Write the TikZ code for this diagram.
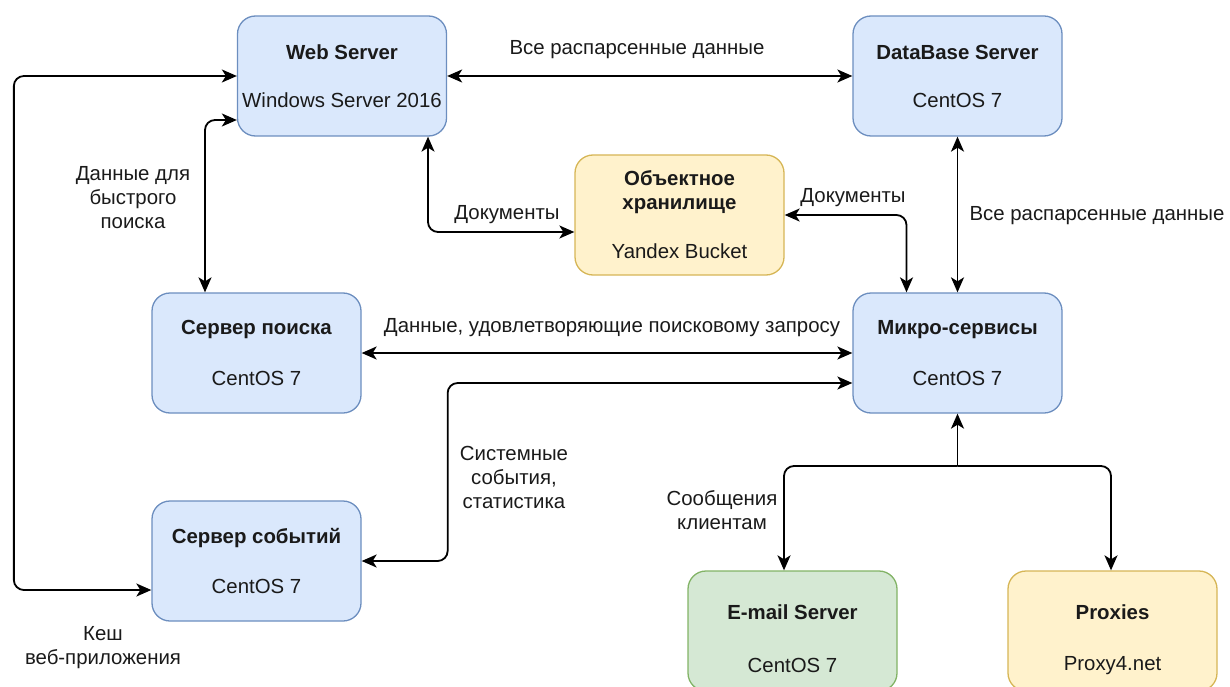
\documentclass[tikz,border=0pt]{standalone}
\usepackage{fontspec}
\setmainfont{Liberation Sans}
\usetikzlibrary{arrows.meta,calc}
\definecolor{bfill}{HTML}{DAE8FC}
\definecolor{bline}{HTML}{6C8EBF}
\definecolor{yfill}{HTML}{FFF2CC}
\definecolor{yline}{HTML}{D6B656}
\definecolor{gfill}{HTML}{D5E8D4}
\definecolor{gline}{HTML}{82B366}
\definecolor{txt}{HTML}{1A1A1A}
\begin{document}
\begin{tikzpicture}[x=1pt,y=-1pt,
  box/.style={draw, line width=1.3pt, rounded corners=18pt, minimum width=209pt, minimum height=120pt, inner sep=0pt},
  bluebox/.style={box, draw=bline, fill=bfill},
  yellowbox/.style={box, draw=yline, fill=yfill},
  greenbox/.style={box, draw=gline, fill=gfill},
  lbl/.style={font=\fontsize{20.4}{24}\selectfont, align=center, inner sep=0pt, text=txt},
  ttl/.style={lbl, font=\fontsize{20.4}{24}\selectfont\bfseries},
  link/.style={line width=1.8pt, draw=black, rounded corners=10pt},
  both/.style={link, {Stealth[length=15pt,width=13pt,inset=4pt]}-{Stealth[length=15pt,width=13pt,inset=4pt]}},
  fwd/.style={link, -{Stealth[length=15pt,width=13pt,inset=4pt]}},
]
\useasboundingbox (0,0) rectangle (1230,687);

% boxes
\node[bluebox] (web) at (342,76) {};
\node[bluebox] (db) at (957.5,76) {};
\node[yellowbox] (obj) at (679.5,215) {};
\node[bluebox] (search) at (256.5,353) {};
\node[bluebox] (micro) at (957.5,353) {};
\node[bluebox] (events) at (256.5,561) {};
\node[greenbox] (email) at (792.5,631) {};
\node[yellowbox] (proxies) at (1112.5,631) {};

% box texts
\node[ttl] (webT) at ($(web.north)+(0,37)$) {Web Server};
\node[lbl] (webS) at ($(web.north)+(0,85)$) {Windows Server 2016};
\node[ttl] (dbT) at ($(db.north)+(0,37)$) {DataBase Server};
\node[lbl] (dbS) at ($(db.north)+(0,85)$) {CentOS 7};
\node[ttl] (objT) at ($(obj.north)+(0,38)$) {Объектное\\хранилище};
\node[lbl] (objS) at ($(obj.north)+(0,97)$) {Yandex Bucket};
\node[ttl] (searchT) at ($(search.north)+(0,37)$) {Сервер поиска};
\node[lbl] (searchS) at ($(search.north)+(0,86)$) {CentOS 7};
\node[ttl] (microT) at ($(micro.north)+(0,37)$) {Микро-сервисы};
\node[lbl] (microS) at ($(micro.north)+(0,86)$) {CentOS 7};
\node[ttl] (eventsT) at ($(events.north)+(0,38)$) {Сервер событий};
\node[lbl] (eventsS) at ($(events.north)+(0,86)$) {CentOS 7};
\node[ttl] (emailT) at ($(email.north)+(0,42)$) {E-mail Server};
\node[lbl] (emailS) at ($(email.north)+(0,95)$) {CentOS 7};
\node[ttl] (proxT) at ($(proxies.north)+(0,42)$) {Proxies};
\node[lbl] (proxS) at ($(proxies.north)+(0,95)$) {Proxy4.net};

% connectors
\draw[both] (web.east) -- (db.west);
\draw[both] (web.west) -- ++(-223,0) |- ($(events.west)+(0,29)$);
\draw[both] ($(web.west)+(0,44)$) -| ($(search.north)+(-51.5,0)$);
\draw[both] ($(web.south)+(86,0)$) |- ($(obj.west)+(0,17)$);
\draw[both] (obj.east) -| ($(micro.north)+(-51,0)$);
\draw[both] (db.south) -- (micro.north);
\draw[both] (search.east) -- (micro.west);
\draw[both] (events.east) -- ++(86,0) |- ($(micro.west)+(0,30)$);
\coordinate (split) at (957.5,466);
\draw[fwd] (split) -- (micro.south);
\draw[fwd] (split) -| ($(email.north)+(-8.5,0)$);
\draw[fwd] (split) -| ($(proxies.north)+(-1.5,0)$);

% connector labels
\node[lbl] (l1) at (637,50) {Все распарсенные данные};
\node[lbl] (l2) at (103,648) {Кеш\\веб-приложения};
\node[lbl] (l3) at (133,198) {Данные для\\быстрого\\поиска};
\node[lbl] (l4) at (507,215) {Документы};
\node[lbl] (l5) at (853,198) {Документы};
\node[lbl] (l6) at (1097,216) {Все распарсенные данные};
\node[lbl] (l7) at (612,328) {Данные, удовлетворяющие поисковому запросу};
\node[lbl] (l8) at (514,477) {Системные\\события,\\статистика};
\node[lbl] (l9) at (722,510) {Сообщения\\клиентам};
\end{tikzpicture}
\end{document}
